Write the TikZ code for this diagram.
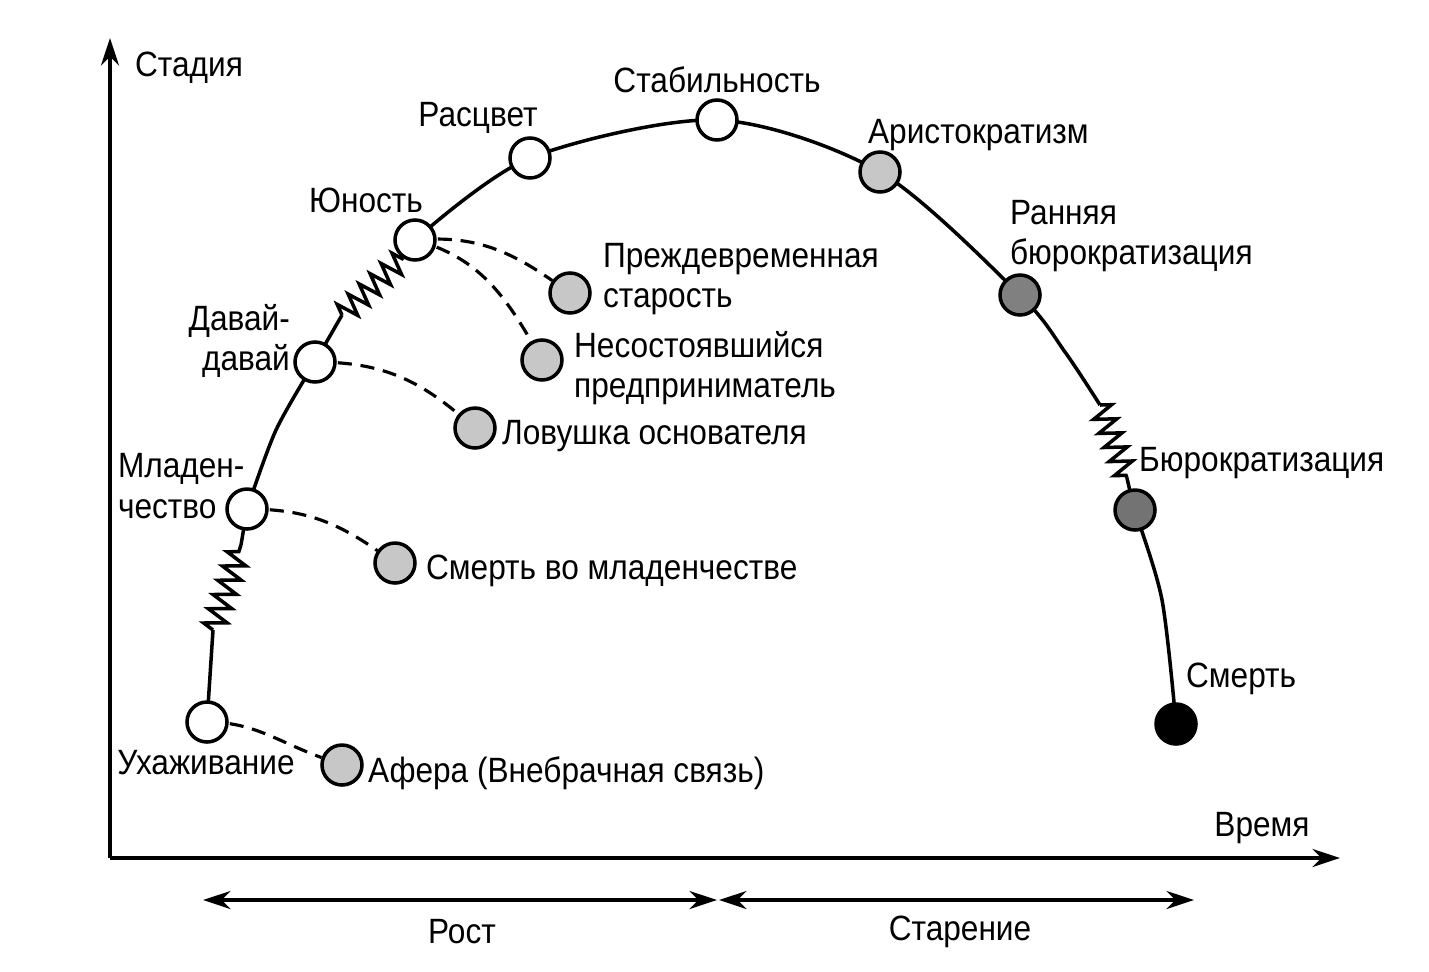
\documentclass[tikz,border=0pt]{standalone}
\usepackage{fontspec}
\setmainfont[FakeStretch=0.9]{Liberation Sans}
\usetikzlibrary{arrows.meta,backgrounds,decorations.pathmorphing,positioning}
\tikzset{
	stage/.style={circle,draw=black,line width=2pt,minimum size=0.8cm,inner sep=0pt},
	lbl/.style={font=\fontsize{20}{23}\selectfont,inner sep=1pt},
	curve/.style={line width=2pt},
	spring/.style={decorate,decoration={zigzag,segment length=0.3cm,amplitude=0.22cm}},
	fail/.style={line width=1.8pt,dash pattern=on 8pt off 5pt},
	bigtip/.tip={Stealth[length=0.55cm,width=0.36cm]},
	axis/.style={line width=2pt,-bigtip}
}
\begin{document}
\begin{tikzpicture}[x=0.02cm,y=-0.02cm]
	\useasboundingbox (0,0) rectangle (1429,971);
	% stages
	\node (uh) [stage,fill=white] at (207,722) {};
	\node (mla) [stage,fill=white] at (247,509) {};
	\node (dd) [stage,fill=white] at (315,362) {};
	\node (jun) [stage,fill=white] at (415,240) {};
	\node (ras) [stage,fill=white] at (530,158) {};
	\node (stab) [stage,fill=white] at (717,120) {};
	\node (ari) [stage,fill=black!22] at (880,172) {};
	\node (rb) [stage,fill=black!50] at (1020,295) {};
	\node (bur) [stage,fill=black!55] at (1135,510) {};
	\node (death) [stage,fill=black] at (1176,724) {};
	% traps
	\node (af) [stage,fill=black!22] at (342,765) {};
	\node (smm) [stage,fill=black!22] at (395,563) {};
	\node (lov) [stage,fill=black!22] at (475,428) {};
	\node (nes) [stage,fill=black!22] at (542,360) {};
	\node (pre) [stage,fill=black!22] at (570,293) {};
	\coordinate (z1a) at (213,630);
	\coordinate (z1b) at (241,545);
	\coordinate (z2a) at (342,315);
	\coordinate (z2b) at (403,258);
	\coordinate (z3a) at (1100,405);
	\coordinate (z3b) at (1127,478);

	\begin{scope}[on background layer]
		\draw[curve] (uh.center) -- (z1a);
		\draw[curve,spring] (z1a) -- (z1b);
		\draw[curve] (z1b) -- (mla.center);
		\draw[curve] plot[smooth] coordinates {(mla.center) (276,430) (dd.center)};
		\draw[curve] (dd.center) -- (z2a);
		\draw[curve,spring] (z2a) -- (z2b);
		\draw[curve] (z2b) -- (jun.center);
		\draw[curve] plot[smooth] coordinates {(jun.center) (ras.center) (stab.center) (ari.center) (rb.center) (1065,352) (z3a)};
		\draw[curve,spring] (z3a) -- (z3b);
		\draw[curve] plot[smooth] coordinates {(z3b) (bur.center) (1162,600) (death.center)};
		\draw[fail] (uh.center) to[out=0,in=160] (af);
		\draw[fail] (mla.center) to[out=0,in=145] (smm);
		\draw[fail] (dd.center) to[out=0,in=140] (lov);
		\draw[fail] (jun.center) to[out=-15,in=120] (nes);
		\draw[fail] (jun.center) to[out=5,in=145] (pre);
	\end{scope}

	% axes
	\coordinate (o) at (110,858);
	\coordinate (ytop) at (110,38);
	\coordinate (xend) at (1340,858);
	\draw[axis] (o) -- (ytop);
	\draw[axis] (o) -- (xend);
	\coordinate (g1) at (203,900);
	\coordinate (g2) at (717,900);
	\coordinate (g3) at (719,900);
	\coordinate (g4) at (1194,900);
	\draw[line width=2pt,bigtip-bigtip] (g1) -- (g2);
	\draw[line width=2pt,bigtip-bigtip] (g3) -- (g4);

	% labels
	\node[lbl,anchor=west] at (133,68) {Стадия};
	\node[lbl] at (1262,828) {Время};
	\node[lbl] at (462,932) {Рост};
	\node[lbl] at (960,932) {Старение};
	\node[lbl] at (717,80) {Стабильность};
	\node[lbl] at (478,118) {Расцвет};
	\node[lbl] at (366,200) {Юность};
	\node[lbl,anchor=west] at (866,135) {Аристократизм};
	\node[lbl,anchor=west,align=left] at (1008,236) {Ранняя\\бюрократизация};
	\node[lbl,anchor=east,align=right] at (292,341) {Давай-\\давай};
	\node[lbl,anchor=west,align=left] at (116,486) {Младен-\\чество};
	\node[lbl] at (206,763) {Ухаживание};
	\node[lbl,anchor=west] at (366,773) {Афера (Внебрачная связь)};
	\node[lbl,anchor=west] at (424,571) {Смерть во младенчестве};
	\node[lbl,anchor=west] at (500,436) {Ловушка основателя};
	\node[lbl,anchor=west,align=left] at (572,368) {Несостоявшийся\\предприниматель};
	\node[lbl,anchor=west,align=left] at (601,279) {Преждевременная\\старость};
	\node[lbl,anchor=west] at (1137,463) {Бюрократизация};
	\node[lbl,anchor=west] at (1184,679) {Смерть};
\end{tikzpicture}
\end{document}
